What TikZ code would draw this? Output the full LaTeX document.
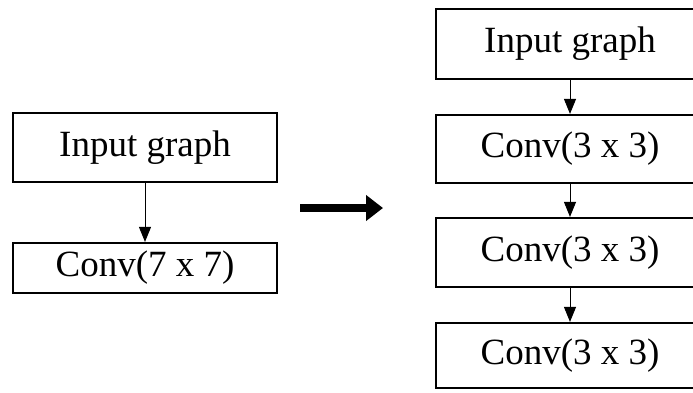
\documentclass[tikz,border=0pt]{standalone}
\usepackage{fontspec}
\setmainfont{Liberation Serif}
\usetikzlibrary{arrows.meta}
\begin{document}
\begin{tikzpicture}[x=1pt,y=-1pt,
  box/.style={draw, line width=2.2pt, inner sep=0pt, font=\fontsize{37}{40}\selectfont},
  lbox/.style={box, minimum width=264pt},
  rbox/.style={box, minimum width=268pt},
  conn/.style={line width=1pt, -{Triangle[width=12pt,length=15pt]}},
  big/.style={line width=8pt, -{Triangle[width=25pt,length=17pt]}}]
\path[use as bounding box, clip] (0,0) rectangle (693,392);
\fill[white] (0,0) rectangle (693,392);
% left column
\node[lbox, minimum height=69pt] (l1) at (145,147.5) {Input graph};
\node[lbox, minimum height=50pt] (l2) at (145,268) {Conv(7 x 7)};
\draw[conn] (l1) -- (l2);
% right column
\node[rbox, minimum height=70pt] (r1) at (570,44) {Input graph};
\node[rbox, minimum height=68pt] (r2) at (570,149) {Conv(3 x 3)};
\node[rbox, minimum height=69pt] (r3) at (570,252.5) {Conv(3 x 3)};
\node[rbox, minimum height=65pt] (r4) at (570,355.5) {Conv(3 x 3)};
\draw[conn] (r1) -- (r2);
\draw[conn] (r2) -- (r3);
\draw[conn] (r3) -- (r4);
% big arrow
\coordinate (a0) at (300,208);
\coordinate (a1) at (383,208);
\draw[big] (a0) -- (a1);
\end{tikzpicture}
\end{document}
